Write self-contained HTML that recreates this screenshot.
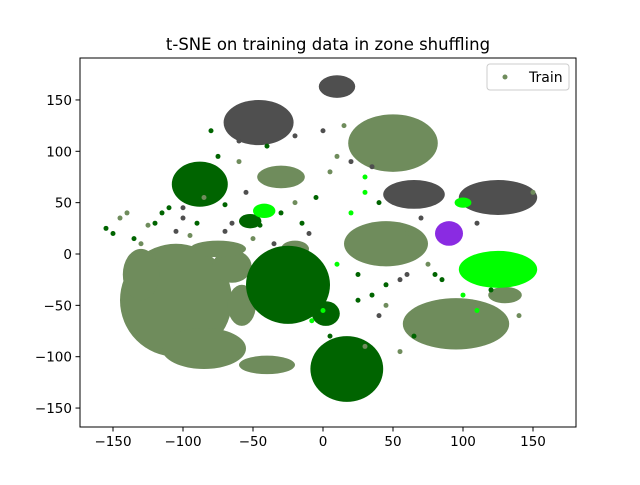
<!DOCTYPE html>
<html><head><meta charset="utf-8">
<style>
html,body{margin:0;padding:0;background:#fff;}
svg text{font-family:"DejaVu Sans","Liberation Sans",sans-serif;}
</style></head>
<body>
<svg id="chart" width="640" height="480" viewBox="0 0 640 480" xmlns="http://www.w3.org/2000/svg">
<rect width="640" height="480" fill="#fff"/>
<text x="328" y="50" font-size="16.5" text-anchor="middle">t-SNE on training data in zone shuffling</text>
<g id="marks"></g>
<g id="axes"></g>
<g>
<rect x="487" y="64" width="82" height="26" rx="3" fill="#fff" fill-opacity="0.8" stroke="#ccc"/>
<circle cx="505" cy="77" r="2.5" fill="#6f8c5c"/>
<text x="529" y="82" font-size="14">Train</text>
</g>
</svg>
<script>
// cluster blobs (data coordinates)
const clusterCx = [-105,-85,-130,-65,-58,-75,-40,-30,50,45,95,130,-20, -46,10,65,125, -88,-25,2,17,-52, -42,125,100, 90];
const clusterCy = [-45,-92,-20,-12,-50,5,-108,75,108,10,-68,-40,5, 128,163,58,55, 68,-30,-58,-112,32, 42,-15,50, 20];
const clusterRx = [40,30,13,14,10,20,20,17,32,30,38,12,10, 25,13,22,28, 20,30,10,26,8, 8,28,6, 10];
const clusterRy = [55,20,25,16,20,8,9,11,28,22,25,8,8, 22,11,14,17, 22,38,12,32,7, 7,18,5, 12];
const clusterColor = ["#6f8c5c","#6f8c5c","#6f8c5c","#6f8c5c","#6f8c5c","#6f8c5c","#6f8c5c","#6f8c5c","#6f8c5c","#6f8c5c","#6f8c5c","#6f8c5c","#6f8c5c",
 "#4f4f4f","#4f4f4f","#4f4f4f","#4f4f4f",
 "#006400","#006400","#006400","#006400","#006400",
 "#00ff00","#00ff00","#00ff00",
 "#8a2be2"];
// scattered individual points
const ptX = [-155,-140,-120,-100,-75,-60,-55,-30,-10,5,20,30,35,40,60,70,80,-130,-110,-65,-5,10,25,35,55,110,140,-80,-20,0,
 -150,-145,-135,-125,-115,-105,-95,-90,-70,-50,-45,-35,-15,0,15,20,30,40,45,60,75,85,100,110,120,150,-60,-40,-20,10,25,45,55,65,-8,5,30,-70,-85,-100];
const ptY = [25,40,30,45,95,90,60,40,20,80,40,60,-40,-60,20,35,-20,10,45,30,55,-10,-20,85,-95,30,-60,120,50,-55,
 20,35,15,28,40,22,18,30,22,15,28,10,30,120,125,90,75,50,-30,-20,-10,-25,-40,-55,-35,60,110,105,115,95,-45,-50,-25,-80,-65,-80,-90,48,55,35];
const ptColor = ["#006400","#6f8c5c","#006400","#4f4f4f","#006400","#6f8c5c","#4f4f4f","#006400","#4f4f4f","#6f8c5c","#00ff00","#00ff00","#006400","#4f4f4f","#6f8c5c","#4f4f4f","#006400","#6f8c5c","#006400","#4f4f4f","#006400","#00ff00","#006400","#4f4f4f","#6f8c5c","#4f4f4f","#6f8c5c","#006400","#6f8c5c","#00ff00",
 "#006400","#6f8c5c","#006400","#6f8c5c","#006400","#4f4f4f","#6f8c5c","#006400","#4f4f4f","#6f8c5c","#006400","#4f4f4f","#006400","#4f4f4f","#6f8c5c","#4f4f4f","#00ff00","#006400","#006400","#4f4f4f","#6f8c5c","#006400","#00ff00","#00ff00","#006400","#6f8c5c","#4f4f4f","#006400","#4f4f4f","#6f8c5c","#006400","#6f8c5c","#4f4f4f","#006400","#00ff00","#006400","#6f8c5c","#006400","#6f8c5c","#4f4f4f"];
const xTicks = [-150,-100,-50,0,50,100,150];
const yTicks = [-150,-100,-50,0,50,100,150];

const L=80,R=576,T=58,B=427;
const x0=323, xs=1.4, y0=254, ys=1.027;
const xScale=v=>x0+v*xs, yScale=v=>y0-v*ys;
const NS="http://www.w3.org/2000/svg";
const marks=document.getElementById('marks');
for(let i=0;i<clusterCx.length;i++){
  const e=document.createElementNS(NS,'ellipse');
  
  
  e.setAttribute('cx',xScale(clusterCx[i]));
  e.setAttribute('cy',yScale(clusterCy[i]));
  e.setAttribute('rx',clusterRx[i]*xs);
  e.setAttribute('ry',clusterRy[i]*ys);
  e.setAttribute('fill',clusterColor[i]);
  marks.appendChild(e);
}
for(let i=0;i<ptX.length;i++){
  const c=document.createElementNS(NS,'circle');
  
  
  c.setAttribute('cx',xScale(ptX[i]));
  c.setAttribute('cy',yScale(ptY[i]));
  c.setAttribute('r',2.5);
  c.setAttribute('fill',ptColor[i]);
  marks.appendChild(c);
}
const axes=document.getElementById('axes');
const frame=document.createElementNS(NS,'rect');


frame.setAttribute('x',L);frame.setAttribute('y',T);frame.setAttribute('width',R-L);frame.setAttribute('height',B-T);
frame.setAttribute('fill','none');frame.setAttribute('stroke','#000');frame.setAttribute('stroke-width','1');
axes.appendChild(frame);
xTicks.forEach(v=>{
  const px=xScale(v);
  const l=document.createElementNS(NS,'line');
  
  
  l.setAttribute('x1',px);l.setAttribute('x2',px);l.setAttribute('y1',B);l.setAttribute('y2',B+4.5);l.setAttribute('stroke','#000');
  axes.appendChild(l);
  const t=document.createElementNS(NS,'text');
  
  
  t.setAttribute('x',px);t.setAttribute('y',B+19);t.setAttribute('font-size','13.5');t.setAttribute('text-anchor','middle');
  t.textContent=(v<0?'\u2212'+(-v):v);
  axes.appendChild(t);
});
yTicks.forEach(v=>{
  const py=yScale(v);
  const l=document.createElementNS(NS,'line');
  
  
  l.setAttribute('x1',L-4.5);l.setAttribute('x2',L);l.setAttribute('y1',py);l.setAttribute('y2',py);l.setAttribute('stroke','#000');
  axes.appendChild(l);
  const t=document.createElementNS(NS,'text');
  
  
  t.setAttribute('x',L-8);t.setAttribute('y',py+5);t.setAttribute('font-size','13.5');t.setAttribute('text-anchor','end');
  t.textContent=(v<0?'\u2212'+(-v):v);
  axes.appendChild(t);
});
</script>
</body></html>
